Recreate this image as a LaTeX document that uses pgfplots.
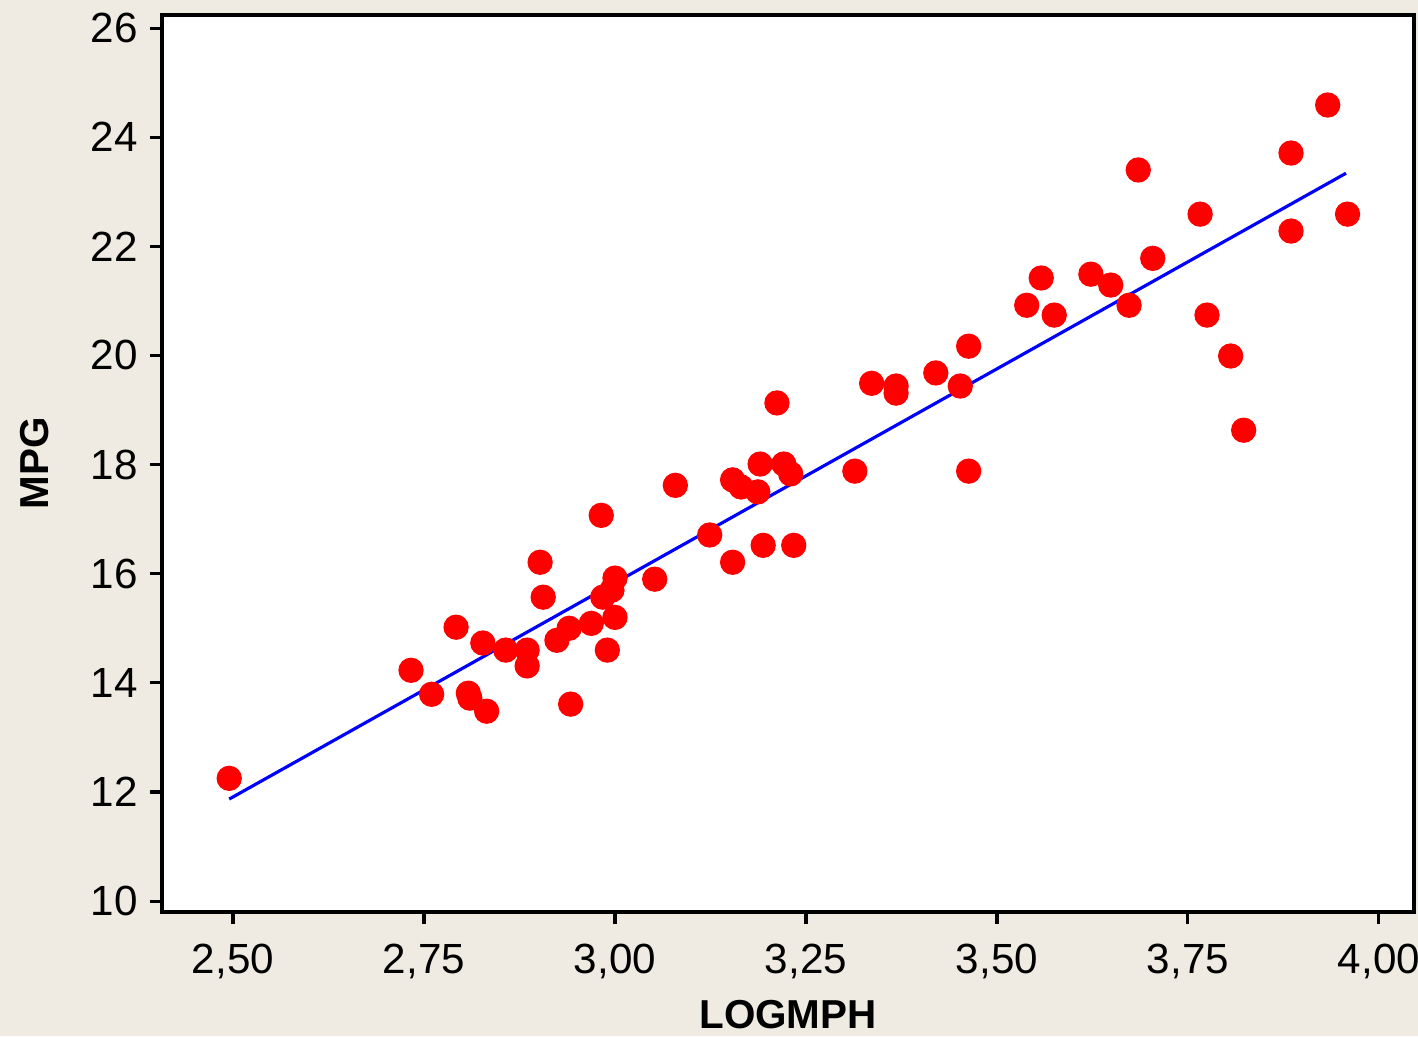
\documentclass[border=0pt]{standalone}
\usepackage{pgfplots}
\pgfplotsset{compat=1.18}
\usepackage{fontspec}
\setmainfont{Liberation Sans}
\definecolor{bg}{RGB}{240,235,226}
\begin{document}
\begin{tikzpicture}
\fill[bg] (-1.62cm,-1.24cm) rectangle (12.56cm,9.12cm);
\begin{axis}[
  at={(0,0)}, anchor=south west,
  scale only axis, width=12.52cm, height=8.97cm,
  xmin=2.407, xmax=4.046, ymin=9.80, ymax=26.24,
  axis background/.style={fill=white},
  axis line style={line width=0.9pt},
  tick style={line width=0.9pt, black},
  tick align=outside, major tick length=0.12cm,
  xtick={2.5,2.75,3,3.25,3.5,3.75,4},
  ytick={10,12,14,16,18,20,22,24,26},
  xtick pos=bottom, ytick pos=left,
  xticklabel style={yshift=-0.08cm, /pgf/number format/.cd, use comma, fixed, fixed zerofill, precision=2},
  /pgf/number format/assume math mode=true,
  tick label style={font=\fontsize{12}{14}\selectfont},
  xlabel={LOGMPH}, ylabel={MPG},
  label style={font=\fontsize{11.5}{14}\selectfont\bfseries},
  xlabel style={at={(axis description cs:0.5,-0.1148)}, anchor=center},
  ylabel style={at={(axis description cs:-0.1014,0.5)}, anchor=center},
]
\addplot[only marks, mark=*, mark size=3.4pt, mark options={fill=red, draw=red}] coordinates {
(2.495,12.25) (2.733,14.23) (2.760,13.79) (2.792,15.02) (2.808,13.81) (2.810,13.72)
(2.827,14.73) (2.832,13.48) (2.857,14.60) (2.885,14.60) (2.885,14.31) (2.902,16.21)
(2.906,15.57) (2.924,14.78) (2.940,15.00) (2.942,13.61) (2.969,15.09) (2.982,17.07)
(2.984,15.57) (2.990,14.60) (2.996,15.70) (3.000,15.92) (3.000,15.20) (3.052,15.90)
(3.079,17.62) (3.124,16.71) (3.154,16.21) (3.154,17.72) (3.165,17.59) (3.187,17.50)
(3.190,18.01) (3.194,16.52) (3.212,19.13) (3.221,18.01) (3.230,17.83) (3.234,16.52)
(3.314,17.88) (3.336,19.49) (3.368,19.44) (3.368,19.31) (3.420,19.68) (3.452,19.44)
(3.463,20.17) (3.463,17.88) (3.539,20.92) (3.558,21.42) (3.575,20.74) (3.623,21.49)
(3.649,21.29) (3.673,20.92) (3.685,23.40) (3.704,21.78) (3.766,22.59) (3.775,20.74)
(3.806,19.99) (3.823,18.63) (3.885,23.71) (3.885,22.28) (3.933,24.59) (3.959,22.59)
};
\addplot[blue, line width=0.9pt, no marks] coordinates {(2.495,11.87) (3.957,23.34)};
\end{axis}
\pgfresetboundingbox
\path (-1.62cm,-1.24cm) rectangle (12.56cm,9.12cm);
\end{tikzpicture}
\end{document}
